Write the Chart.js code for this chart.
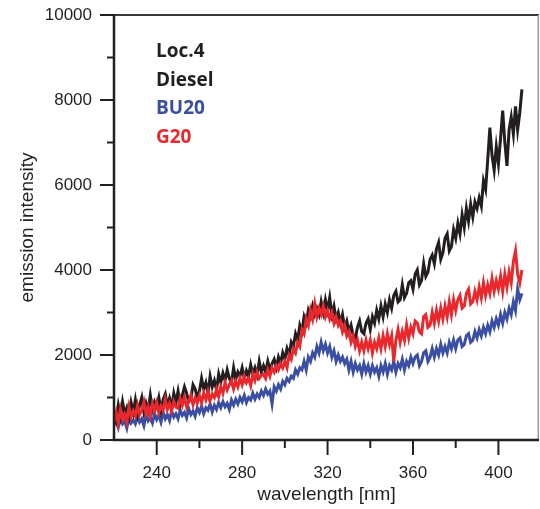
<!DOCTYPE html>
<html>
<head>
<meta charset="utf-8">
<script src="https://cdn.jsdelivr.net/npm/chart.js@4"></script>
<style>
html,body{margin:0;padding:0;background:#fff;}
#wrap{width:540px;height:509px;position:relative;}
</style>
</head>
<body>
<div id="wrap"><canvas id="spectra"></canvas></div>
<script>
// wavelength in nm
const wavelength = [
  220,221,222,223,224,225,226,227,228,229,
  230,231,232,233,234,235,236,237,238,239,
  240,241,242,243,244,245,246,247,248,249,
  250,251,252,253,254,255,256,257,258,259,
  260,261,262,263,264,265,266,267,268,269,
  270,271,272,273,274,275,276,277,278,279,
  280,281,282,283,284,285,286,287,288,289,
  290,291,292,293,294,295,296,297,298,299,
  300,301,302,303,304,305,306,307,308,309,
  310,311,312,313,314,315,316,317,318,319,
  320,321,322,323,324,325,326,327,328,329,
  330,331,332,333,334,335,336,337,338,339,
  340,341,342,343,344,345,346,347,348,349,
  350,351,352,353,354,355,356,357,358,359,
  360,361,362,363,364,365,366,367,368,369,
  370,371,372,373,374,375,376,377,378,379,
  380,381,382,383,384,385,386,387,388,389,
  390,391,392,393,394,395,396,397,398,399,
  400,401,402,403,404,405,406,407,408,409,410,411
];

const diesel = [
  700,480,820,560,900,620,760,540,880,650,
  940,600,820,1000,660,870,700,1050,720,900,
  780,1000,700,950,1080,800,980,760,1100,880,
  1150,850,1050,1250,1100,900,980,1300,1200,1000,
  1150,1450,1200,1350,1100,1500,1250,1400,1180,1550,
  1350,1570,1400,1650,1450,1350,1700,1430,1600,1500,
  1700,1450,1630,1500,1770,1550,1700,1530,1850,1600,
  1750,1600,1850,1650,1800,1900,1700,1950,1800,2050,
  1900,2150,2000,2300,2200,2500,2350,2700,2550,2900,
  2750,3050,2900,3150,2950,3100,2950,3250,3000,3300,
  3050,3350,2950,3150,2850,3000,2750,2950,2650,2800,
  2550,2700,2450,2400,2650,2800,2550,2500,2750,2850,
  2600,2900,2750,3050,2850,3150,2900,3200,3000,3300,
  3100,3400,3500,3250,3300,3650,3350,3450,3700,3750,
  3550,3900,4000,3650,3750,4150,3850,3950,4250,4350,
  4150,4500,4650,4250,4400,4750,4850,4450,4550,4950,
  4750,5100,4850,5300,5000,5450,5150,5550,5250,5600,
  5450,5700,5500,6100,5900,6600,7350,6700,6350,6900,
  6500,7100,7750,7000,6450,7300,7600,7200,7850,7300,7700,8250
];

const bu20 = [
  350,480,300,520,380,450,280,550,400,470,
  380,560,420,500,340,600,450,530,400,620,
  480,580,420,650,500,600,460,680,540,620,
  500,700,580,650,520,740,600,680,560,760,
  650,800,620,760,700,850,660,820,720,880,
  760,900,780,860,720,940,820,960,850,1000,
  900,1050,880,1000,940,1100,960,1080,1000,1150,
  1050,1200,1080,1150,850,1250,1150,1300,1200,1380,
  1300,1450,1380,1500,1450,1650,1550,1700,1650,1850,
  1650,1950,1850,2050,1950,2200,2050,2300,2100,2250,
  2050,2200,1950,2100,1850,2000,1850,1950,1800,1900,
  1650,1850,1600,1800,1650,1750,1550,1800,1600,1750,
  1550,1750,1600,1700,1500,1750,1600,1800,1550,1750,
  1650,1850,1600,1800,1700,1900,1650,1850,1750,1950,
  1800,1950,2000,1750,1850,2050,2100,1850,1950,2150,
  1950,2150,2000,2250,2050,2200,2050,2300,2150,2350,
  2150,2350,2400,2200,2250,2450,2500,2300,2350,2550,
  2400,2600,2450,2650,2500,2700,2550,2800,2650,2850,
  2700,2950,2750,3000,2850,3100,2950,3250,3050,3550,3300,3450
];

const g20 = [
  450,650,380,720,500,600,420,780,550,680,
  560,820,600,700,900,620,780,560,850,700,
  880,640,800,700,950,720,860,680,900,780,
  750,980,820,1000,780,920,1050,830,990,870,
  1050,880,1100,950,1150,930,1080,1000,1200,1020,
  1250,1100,1350,1180,1300,1400,1200,1380,1250,1450,
  1300,1500,1350,1450,1280,1550,1400,1600,1450,1520,
  1550,1450,1650,1500,1700,1600,1750,1650,1800,1700,
  1850,1700,2000,1900,2150,2050,2300,2200,2600,2500,
  2850,2700,3050,2850,3200,2900,3100,2950,3150,2900,
  3050,2850,3000,2750,2900,2700,2800,2550,2700,2450,
  2550,2300,2450,2200,2350,2100,2300,2100,2350,2150,
  2350,2050,2300,2150,2400,2150,2450,2200,2500,2250,
  2450,1850,2350,2600,2300,2550,2350,2700,2400,2650,
  2500,2800,2750,2550,2500,2900,2950,2650,2700,3000,
  2750,3050,2800,3100,2850,3150,2900,3250,2950,3300,
  3050,3300,3400,3100,3150,3450,3550,3200,3250,3500,
  3300,3600,3350,3700,3400,3650,3450,3800,3500,3750,
  3550,3850,3500,3900,3600,3950,3700,4200,4450,3900,3700,4000
];

const xTicks = [240, 280, 320, 360, 400];
const xMinor = [260, 300, 340, 380];
const yTicks = [0, 2000, 4000, 6000, 8000, 10000];
const yMinor = [1000, 3000, 5000, 7000, 9000];

const noteLines = ['Loc.4', 'Diesel', 'BU20', 'G20'];
const noteColors = ['#231f20', '#231f20', '#3a4ea2', '#e8282d'];

const pts = arr => wavelength.map((w, i) => ({x: w, y: arr[i]}));

const noPad = s => { s.paddingTop = 0; s.paddingBottom = 0; s.paddingLeft = 0; s.paddingRight = 0; };

// axes frame, ticks and the text block inside the plot
const framePlugin = {
  id: 'frame',
  afterDraw(chart) {
    const {ctx, chartArea: a, scales: {x, y}} = chart;
    const line = (x1, y1, x2, y2) => {
      ctx.beginPath(); ctx.moveTo(x1, y1); ctx.lineTo(x2, y2); ctx.stroke();
    };
    ctx.save();
    ctx.strokeStyle = '#3a3a3a'; ctx.lineWidth = 2;
    line(a.left, a.top, a.right, a.top);
    ctx.strokeStyle = '#9a9a9a'; ctx.lineWidth = 1.5;
    line(a.right - 0.75, a.top, a.right - 0.75, a.bottom);

    ctx.strokeStyle = '#231f20'; ctx.lineWidth = 2.5;
    line(a.left, a.top - 1, a.left, a.bottom + 1);
    line(a.left - 1, a.bottom, a.right, a.bottom);

    ctx.lineWidth = 2;
    xTicks.forEach(v => { const p = x.getPixelForValue(v); line(p, a.bottom, p, a.bottom + 15); });
    xMinor.forEach(v => { const p = x.getPixelForValue(v); line(p, a.bottom, p, a.bottom + 8); });
    yTicks.forEach(v => { const p = y.getPixelForValue(v); line(a.left - 14, p, a.left, p); });
    yMinor.forEach(v => { const p = y.getPixelForValue(v); line(a.left - 7, p, a.left, p); });

    ctx.font = 'bold 19px "Open Sans"';
    ctx.textAlign = 'left';
    ctx.textBaseline = 'alphabetic';
    noteLines.forEach((t, i) => {
      ctx.fillStyle = noteColors[i];
      ctx.fillText(t, 156, 57 + i * 28.7);
    });
    ctx.restore();
  }
};

const ctx = document.getElementById('spectra').getContext('2d');
new Chart(ctx, {
  type: 'line',
  data: {
    datasets: [
      {label: 'Diesel', data: pts(diesel), borderColor: '#231f20', order: 1},
      {label: 'BU20', data: pts(bu20), borderColor: '#3a4ea2', order: 2},
      {label: 'G20', data: pts(g20), borderColor: '#e8282d', order: 0}
    ]
  },
  options: {
    responsive: true,
    maintainAspectRatio: false,
    animation: false,
    layout: {padding: {top: 15, right: 1, left: 0, bottom: 0}},
    elements: {
      point: {radius: 0},
      line: {borderWidth: 3, tension: 0, fill: false}
    },
    plugins: {legend: {display: false}, tooltip: {enabled: false}},
    scales: {
      x: {
        type: 'linear',
        min: 220,
        max: 419,
        grid: {display: false, drawTicks: false},
        border: {display: false},
        afterBuildTicks: s => { s.ticks = xTicks.map(v => ({value: v})); },
        afterFit: s => { s.height = 69; noPad(s); },
        ticks: {
          padding: 23,
          color: '#231f20',
          font: {family: '"Liberation Sans", Arial, sans-serif', size: 17},
          maxRotation: 0,
          callback: v => String(v)
        },
        title: {
          display: true,
          text: 'wavelength [nm]',
          color: '#231f20',
          font: {family: '"Liberation Sans", Arial, sans-serif', size: 19},
          padding: {top: 0, bottom: 3}
        }
      },
      y: {
        min: 0,
        max: 10000,
        grid: {display: false, drawTicks: false},
        border: {display: false},
        afterBuildTicks: s => { s.ticks = yTicks.map(v => ({value: v})); },
        afterFit: s => { s.width = 114; noPad(s); },
        ticks: {
          padding: 22,
          color: '#231f20',
          font: {family: '"Liberation Sans", Arial, sans-serif', size: 17},
          callback: v => String(v)
        },
        title: {
          display: true,
          text: 'emission intensity',
          color: '#231f20',
          font: {family: '"Liberation Sans", Arial, sans-serif', size: 19},
          padding: {top: 16, bottom: 0}
        }
      }
    }
  },
  plugins: [framePlugin]
});
</script>
</body>
</html>
